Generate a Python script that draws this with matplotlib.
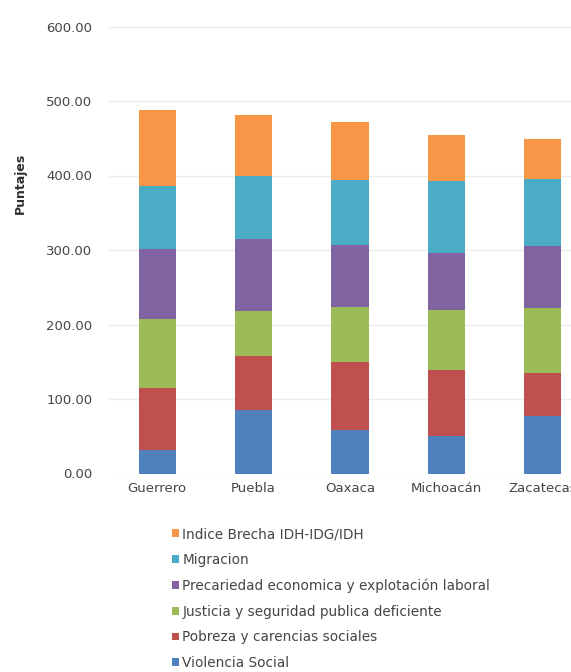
import matplotlib
matplotlib.use("Agg")
import matplotlib.pyplot as plt
from matplotlib.patches import Patch
import numpy as np

estados = ["Guerrero", "Puebla", "Oaxaca", "Michoacán", "Zacatecas"]

violencia_social = [31.5, 85, 58, 50, 77]
pobreza = [83.5, 73, 92, 89, 58]
justicia = [92, 60, 74, 80.5, 87]
precariedad = [94, 97, 83, 76.5, 83]
migracion = [85, 84, 87, 96, 90]
brecha_idh = [102, 82, 78, 62, 54]

series_nombres = [
    "Violencia Social",
    "Pobreza y carencias sociales",
    "Justicia y seguridad publica deficiente",
    "Precariedad economica y explotación laboral",
    "Migracion",
    "Indice Brecha IDH-IDG/IDH",
]
series_valores = [violencia_social, pobreza, justicia, precariedad, migracion, brecha_idh]
colores = ["#4F81BD", "#C0504D", "#9BBB59", "#8064A2", "#4BACC6", "#F79646"]

yticks = [0, 100, 200, 300, 400, 500, 600]

W, H = 571, 672
fig = plt.figure(figsize=(W / 100, H / 100), dpi=100)

# axes in pixel terms: x from 109 to 591 (right edge runs past the canvas)
left, right = 109, 591
top, bottom = 26.5, 473.5
ax = fig.add_axes([left / W, 1 - bottom / H, (right - left) / W, (bottom - top) / H])

x = np.arange(len(estados))
base = np.zeros(len(estados))
handles = []
for nombre, vals, col in zip(series_nombres, series_valores, colores):
    ax.bar(x, vals, bottom=base, width=0.385, color=col, edgecolor="none", zorder=3)
    base += np.array(vals)
    handles.append(Patch(facecolor=col, edgecolor="none", label=nombre))

ax.set_xlim(-0.5, len(estados) - 0.5)
ax.set_ylim(0, 600)
ax.set_yticks(yticks)
ax.set_yticklabels([f"{v:.2f}" for v in yticks])
ax.set_xticks(x)
ax.set_xticklabels(estados)
ax.grid(axis="y", color="#ECECEC", linewidth=0.9, zorder=0)
for s in ax.spines.values():
    s.set_visible(False)
ax.tick_params(axis="both", length=0, colors="#454545", labelsize=9.5)
ax.tick_params(axis="y", pad=12)
ax.tick_params(axis="x", pad=6)

fig.text(20 / W, 1 - 183 / H, "Puntajes", rotation=90, fontsize=9, fontweight="bold",
         color="#303030", ha="center", va="center")

leg = fig.legend(handles=handles[::-1], loc="upper left",
                 bbox_to_anchor=(172 / W, 1 - 527 / H), frameon=False,
                 fontsize=9.8, handlelength=0.5, handleheight=0.5, handletextpad=0.25,
                 labelspacing=0.86, borderaxespad=0, borderpad=0)
for t in leg.get_texts():
    t.set_color("#454545")

fig.savefig("out.png", dpi=100)
